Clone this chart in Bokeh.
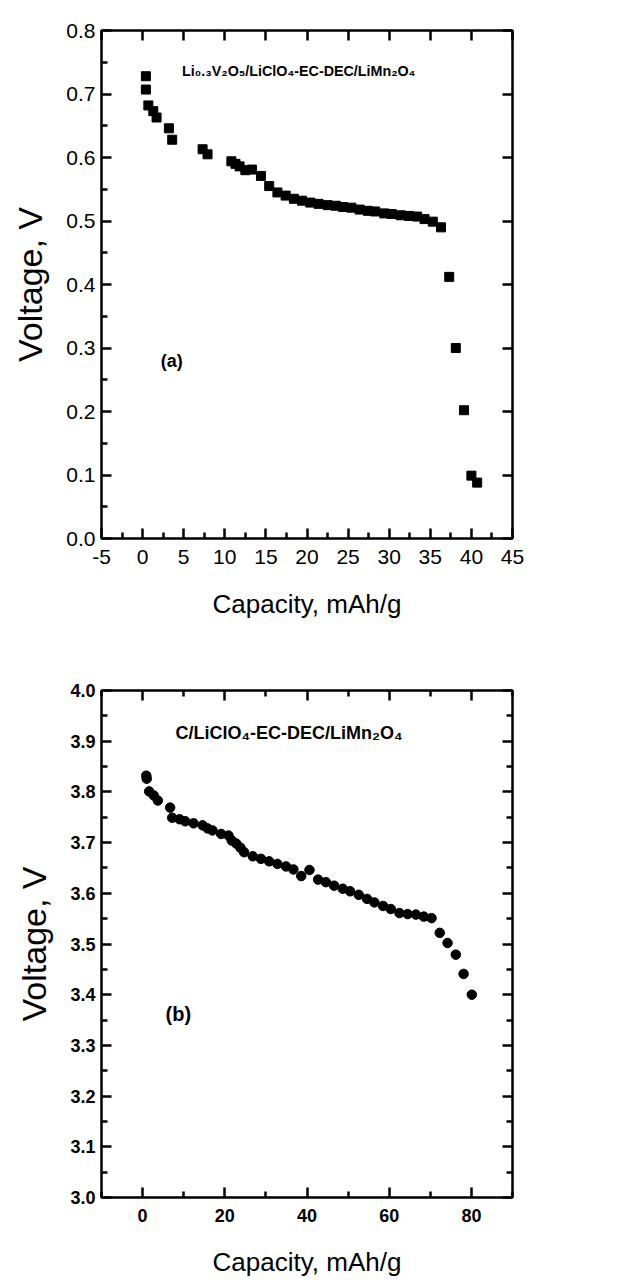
from bokeh.plotting import figure
from bokeh.layouts import column
from bokeh.models import (LinearAxis, FixedTicker, PrintfTickFormatter,
                          CustomJSTickFormatter, Range1d, Label)
from bokeh.embed import file_html
from bokeh.resources import INLINE

# ---------------- data: panel (a) ----------------
cap_a = [0.4, 0.4, 0.7, 1.3, 1.7, 3.2, 3.6, 7.3, 7.9, 10.8, 11.3, 11.8, 12.5,
         13.3, 14.4, 15.4, 16.4, 17.4, 18.4, 19.4, 20.4, 21.4, 22.5, 23.5,
         24.4, 25.4, 26.4, 27.4, 28.3, 29.4, 30.3, 31.4, 32.4, 33.4, 34.3,
         35.3, 36.3, 37.3, 38.1, 39.1, 40.0, 40.7]
volt_a = [0.728, 0.707, 0.682, 0.673, 0.663, 0.646, 0.628, 0.613, 0.605,
          0.594, 0.590, 0.586, 0.580, 0.581, 0.571, 0.555, 0.545, 0.540,
          0.535, 0.532, 0.529, 0.527, 0.525, 0.524, 0.522, 0.521, 0.518,
          0.516, 0.515, 0.512, 0.511, 0.509, 0.508, 0.507, 0.503, 0.499,
          0.490, 0.412, 0.300, 0.202, 0.099, 0.088]

# ---------------- data: panel (b) ----------------
cap_b = [0.9, 1.0, 1.6, 2.7, 3.7, 6.7, 7.2, 9.0, 10.4, 12.4, 14.6, 15.8, 17.0,
         19.1, 20.9, 21.7, 22.8, 23.8, 24.7, 26.8, 28.8, 30.8, 32.8, 34.9,
         36.7, 38.6, 40.6, 42.7, 44.6, 46.6, 48.7, 50.5, 52.6, 54.6, 56.4,
         58.5, 60.4, 62.5, 64.5, 66.5, 68.4, 70.3, 72.3, 74.2, 76.2, 78.1,
         80.1]
volt_b = [3.832, 3.826, 3.801, 3.793, 3.783, 3.769, 3.749, 3.746, 3.742,
          3.738, 3.734, 3.728, 3.724, 3.717, 3.714, 3.704, 3.698, 3.690,
          3.681, 3.673, 3.668, 3.663, 3.658, 3.653, 3.647, 3.634, 3.646,
          3.627, 3.622, 3.615, 3.609, 3.604, 3.597, 3.589, 3.582, 3.575,
          3.569, 3.561, 3.559, 3.558, 3.554, 3.551, 3.522, 3.502, 3.479,
          3.441, 3.400]

# ---------------- ticks ----------------
xticks_a = [-5, 0, 5, 10, 15, 20, 25, 30, 35, 40, 45]
yticks_a = [0.0, 0.1, 0.2, 0.3, 0.4, 0.5, 0.6, 0.7, 0.8]
xticks_b = [0, 20, 40, 60, 80]
yticks_b = [3.0, 3.1, 3.2, 3.3, 3.4, 3.5, 3.6, 3.7, 3.8, 3.9, 4.0]

xminor_a = [t + 2.5 for t in xticks_a[:-1]]
yminor_a = [round(t + 0.05, 3) for t in yticks_a[:-1]]
xminor_b = [-10, 10, 30, 50, 70, 90]
yminor_b = [round(t + 0.05, 3) for t in yticks_b[:-1]]

label_a = "Li\u2080.\u2083V\u2082O\u2085/LiClO\u2084-EC-DEC/LiMn\u2082O\u2084"
label_b = "C/LiClO\u2084-EC-DEC/LiMn\u2082O\u2084"

FONT = "Liberation Sans"


def style_axis(ax, size, fstyle, standoff):
    ax.axis_line_width = 2
    ax.axis_line_color = "black"
    ax.major_tick_in = 10
    ax.major_tick_out = 0
    ax.minor_tick_in = 6
    ax.minor_tick_out = 0
    ax.major_tick_line_color = "black"
    ax.minor_tick_line_color = "black"
    ax.major_tick_line_width = 2.5
    ax.minor_tick_line_width = 2.5
    ax.major_label_text_font = FONT
    ax.major_label_text_font_size = size
    ax.major_label_text_font_style = fstyle
    ax.major_label_text_color = "black"
    ax.major_label_standoff = standoff
    ax.axis_label_text_font = FONT
    ax.axis_label_text_font_style = "normal"
    ax.axis_label_text_color = "black"


def make_fig(height, btop, bbot, xr, yr, xt, xm, yt, ym, xfmt, yfmt,
             tsize, tstyle, extra_minor, xstand, xlab_stand):
    p = figure(width=627, height=height, x_range=Range1d(*xr),
               y_range=Range1d(*yr), output_backend="svg",
               toolbar_location=None, min_border_left=101,
               min_border_right=115, min_border_top=btop,
               min_border_bottom=bbot,
               x_axis_label="Capacity, mAh/g", y_axis_label="Voltage, V")
    p.grid.visible = False
    p.outline_line_color = "black"
    p.outline_line_width = 2
    p.background_fill_color = "white"
    p.border_fill_color = "white"

    xa = p.xaxis[0]
    xa.ticker = FixedTicker(ticks=xt, minor_ticks=xm)
    xa.formatter = PrintfTickFormatter(format=xfmt)
    style_axis(xa, tsize, tstyle, xstand)
    xa.axis_label_text_font_size = "26px"
    xa.axis_label_standoff = xlab_stand

    ya = p.yaxis[0]
    ya.ticker = FixedTicker(ticks=yt, minor_ticks=ym)
    ya.formatter = PrintfTickFormatter(format=yfmt)
    style_axis(ya, tsize, tstyle, 6)
    ya.axis_label_text_font_size = "34px"
    ya.axis_label_standoff = 14

    top = LinearAxis(ticker=FixedTicker(ticks=xt,
                                        minor_ticks=xm if extra_minor else []),
                     formatter=CustomJSTickFormatter(code="return ''"))
    style_axis(top, "1px", "normal", 0)
    p.add_layout(top, "above")
    right = LinearAxis(ticker=FixedTicker(ticks=yt,
                                          minor_ticks=ym if extra_minor else []),
                       formatter=CustomJSTickFormatter(code="return ''"))
    style_axis(right, "1px", "normal", 0)
    p.add_layout(right, "right")
    return p


p1 = make_fig(640, 30, 102, (-5, 45), (0, 0.8), xticks_a, xminor_a,
              yticks_a, yminor_a, "%d", "%.1f", "21px", "normal", False,
              11, 22)
p1.scatter(cap_a, volt_a, marker="square", size=9, color="black")
p1.add_layout(Label(x=4.8, y=0.737, text=label_a, text_font=FONT,
                    text_font_size="14.3px", text_font_style="bold",
                    text_baseline="middle", text_color="black"))
p1.add_layout(Label(x=2.2, y=0.28, text="(a)", text_font=FONT,
                    text_font_size="18px", text_font_style="bold",
                    text_baseline="middle", text_color="black"))

p2 = make_fig(640, 50, 83, (-10, 90), (3.0, 4.0), xticks_b, xminor_b,
              yticks_b, yminor_b, "%d", "%.1f", "18px", "bold", True,
              11, 22)
p2.scatter(cap_b, volt_b, marker="circle", size=9.5, color="black")
p2.add_layout(Label(x=8.0, y=3.917, text=label_b, text_font=FONT,
                    text_font_size="18px", text_font_style="bold",
                    text_baseline="middle", text_color="black"))
p2.add_layout(Label(x=5.6, y=3.361, text="(b)", text_font=FONT,
                    text_font_size="20px", text_font_style="bold",
                    text_baseline="middle", text_color="black"))

layout = column(p1, p2)
open("out.html", "w").write(file_html(layout, INLINE))
